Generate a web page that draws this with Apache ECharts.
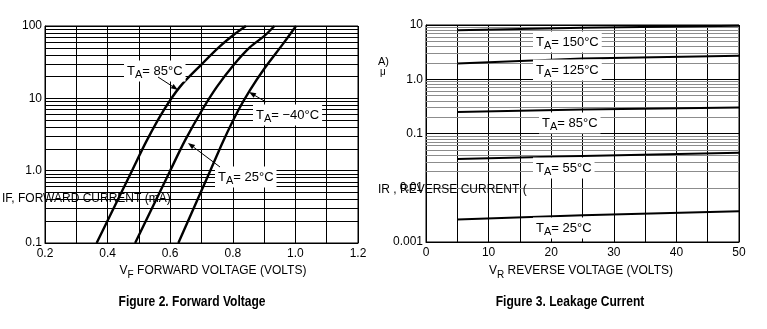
<!DOCTYPE html>
<html><head><meta charset="utf-8">
<script src="https://cdn.jsdelivr.net/npm/echarts@6/dist/echarts.min.js"></script>
<style>html,body{margin:0;padding:0;background:#fff}#c{width:767px;height:329px}</style>
</head><body><div id="c"></div>
<script>
// ---- Figure 2: forward voltage (VF, volts) vs forward current (IF, mA)
const fwd85V = [0.365, 0.478, 0.525, 0.580, 0.631, 0.702, 0.756, 0.807, 0.842];
const fwd85I = [0.1, 1, 2.6, 6.9, 14.4, 30, 51, 78, 100];
const fwd25V = [0.488, 0.600, 0.647, 0.702, 0.749, 0.802, 0.855, 0.901, 0.933];
const fwd25I = [0.1, 1, 2.6, 6.9, 14.4, 28.7, 51, 73, 100];
const fwdm40V = [0.626, 0.728, 0.770, 0.818, 0.855, 0.901, 0.961, 1.002];
const fwdm40I = [0.1, 1, 2.6, 6.9, 13, 25.8, 57, 100];
const fwdXTicks = ['0.2','0.4','0.6','0.8','1.0','1.2'];
const fwdYTicks = ['0.1','1.0','10','100'];
// ---- Figure 3: reverse voltage (VR, volts) vs reverse current (IR, uA)
const revVoltage = [5, 25, 50];
const revI150 = [8.0, 8.9, 9.7];
const revI125 = [1.95, 2.41, 2.7];
const revI85 = [0.25, 0.276, 0.30];
const revI55 = [0.034, 0.0385, 0.044];
const revI25 = [0.0026, 0.0031, 0.0037];
const revXTicks = ['0','10','20','30','40','50'];
const revYTicks = ['0.001','0.01','0.1','1.0','10'];

function pairs(xs, ys){ return xs.map((x,i)=>[x, ys[i]]); }
function logMinors(lo, hi){ const out=[]; for(let d=lo; d<hi-1e-12; d*=10){ for(let k=2;k<=9;k++) out.push(+(d*k).toPrecision(6)); } return out; }
function fmtLog(v){ return String(v) === '1' ? '1.0' : String(+v.toPrecision(6)); }

const FONT = '"Liberation Sans", Arial, sans-serif';
const chart = echarts.init(document.getElementById('c'), null, {renderer:'canvas'});

const curveStyle = {type:'line', smooth:0.3, symbol:'none', lineStyle:{color:'#000', width:2.4}, z:5, silent:true};
function gridSeries(xi, vals, color){
  return {type:'line', xAxisIndex:xi, yAxisIndex:xi, data:[], z:1, silent:true,
    markLine:{silent:true, symbol:['none','none'], animation:false, label:{show:false},
      lineStyle:{color:color, width:1, type:'solid'}, emphasis:{disabled:true},
      data: vals.map(v=>({yAxis:v}))}};
}
const revLine = {xAxisIndex:1, yAxisIndex:1, smooth:false, lineStyle:{color:'#000', width:2}};

const option = {
  animation:false,
  textStyle:{fontFamily:FONT},
  grid:[
    {left:45, top:26, width:313, height:217, show:true, borderColor:'#000', borderWidth:1},
    {left:426, top:25, width:313, height:217, show:true, borderColor:'#000', borderWidth:1}
  ],
  xAxis:[
    {gridIndex:0, type:'value', min:0.2, max:1.2, interval:0.1,
     axisLine:{lineStyle:{color:'#000'}}, axisTick:{show:false},
     splitLine:{lineStyle:{color:'#000', width:1}},
     axisLabel:{color:'#000', fontSize:12, margin:5, fontFamily:FONT,
       formatter:v=>{ const s=(Math.round(v*10)/10).toFixed(1); return fwdXTicks.includes(s)?s:''; }}},
    {gridIndex:1, type:'value', min:0, max:50, interval:5,
     axisLine:{lineStyle:{color:'#000'}}, axisTick:{show:false},
     splitLine:{lineStyle:{color:'#000', width:1}},
     axisLabel:{color:'#000', fontSize:12, margin:5, fontFamily:FONT,
       formatter:v=>{ const s=String(Math.round(v)); return revXTicks.includes(s)?s:''; }}}
  ],
  yAxis:[
    {gridIndex:0, type:'log', logBase:10, min:0.1, max:100,
     axisLine:{lineStyle:{color:'#000'}}, axisTick:{show:false},
     splitLine:{lineStyle:{color:'#000', width:1}},
     axisLabel:{color:'#000', fontSize:12, margin:3, fontFamily:FONT,
       formatter:v=>{ const s=fmtLog(v); return fwdYTicks.includes(s)?s:''; }}},
    {gridIndex:1, type:'log', logBase:10, min:0.001, max:10,
     axisLine:{lineStyle:{color:'#000'}}, axisTick:{show:false},
     splitLine:{lineStyle:{color:'#000', width:1}},
     axisLabel:{color:'#000', fontSize:12, margin:3, fontFamily:FONT,
       formatter:v=>{ const s=fmtLog(v); return revYTicks.includes(s)?s:''; }}}
  ],
  series:[
    gridSeries(0, logMinors(0.1,100), '#000'),
    gridSeries(1, logMinors(0.001,10), '#8c8c8c'),
    Object.assign({}, curveStyle, {xAxisIndex:0, yAxisIndex:0, data:pairs(fwd85V, fwd85I)}),
    Object.assign({}, curveStyle, {xAxisIndex:0, yAxisIndex:0, data:pairs(fwd25V, fwd25I)}),
    Object.assign({}, curveStyle, {xAxisIndex:0, yAxisIndex:0, data:pairs(fwdm40V, fwdm40I)}),
    Object.assign({}, curveStyle, revLine, {data:pairs(revVoltage, revI150)}),
    Object.assign({}, curveStyle, revLine, {data:pairs(revVoltage, revI125)}),
    Object.assign({}, curveStyle, revLine, {data:pairs(revVoltage, revI85)}),
    Object.assign({}, curveStyle, revLine, {data:pairs(revVoltage, revI55)}),
    Object.assign({}, curveStyle, revLine, {data:pairs(revVoltage, revI25)})
  ]
};
chart.setOption(option);

// ---- annotations (layout in pixels)
const rich = {a:{fontSize:13, fontFamily:FONT, color:'#000'}, s:{fontSize:11, fontFamily:FONT, color:'#000', padding:[8,0,0,0]}};
function tLabel(x, y, temp){
  return {type:'text', z:50, x:x, y:y, style:{text:'{a|T}{s|A}{a|= '+temp+'}', rich:rich,
    align:'left', verticalAlign:'middle', backgroundColor:'#fff', padding:[1,3,1,3]}};
}
function arrow(x1,y1,x2,y2){
  const ang=Math.atan2(y2-y1,x2-x1), L=7, W=2.6;
  const bx=x2-L*Math.cos(ang), by=y2-L*Math.sin(ang);
  const px=-Math.sin(ang)*W, py=Math.cos(ang)*W;
  return [
    {type:'line', z:60, shape:{x1:x1,y1:y1,x2:bx,y2:by}, style:{stroke:'#000', lineWidth:1}},
    {type:'polygon', z:60, shape:{points:[[x2,y2],[bx+px,by+py],[bx-px,by-py]]}, style:{fill:'#000'}}
  ];
}
function txt(x,y,text,opts,extra){
  return Object.assign({type:'text', z:40, x:x, y:y, style:Object.assign({text:text, fontSize:12, fontFamily:FONT, fill:'#000', align:'left', verticalAlign:'middle'}, opts||{})}, extra||{});
}
const sub = {a:{fontSize:12, fontFamily:FONT, color:'#000'}, s:{fontSize:10, fontFamily:FONT, color:'#000', padding:[8,0,0,0]}};
const graphics = [
  tLabel(124, 71, '85°C'),
  tLabel(253, 115, '−40°C'),
  tLabel(215, 177, '25°C'),
  ...arrow(158,77,178,90),
  ...arrow(266,102,249,92),
  ...arrow(220,167,188,143),
  tLabel(533, 42, '150°C'),
  tLabel(533, 70, '125°C'),
  tLabel(539, 123, '85°C'),
  tLabel(533, 168, '55°C'),
  tLabel(533, 228, '25°C'),
  txt(2, 199, 'IF, FORWARD CURRENT (mA)'),
  txt(378, 190, 'IR , REVERSE CURRENT ('),
  txt(378, 62, 'A)', {fontSize:11}),
  txt(380, 72, 'μ', {fontSize:10}),
  {type:'text', z:40, x:213, y:271, style:{text:'{a|V}{s|F}{a| FORWARD VOLTAGE (VOLTS)}', rich:sub, align:'center', verticalAlign:'middle'}},
  {type:'text', z:40, x:581, y:271, style:{text:'{a|V}{s|R}{a| REVERSE VOLTAGE (VOLTS)}', rich:sub, align:'center', verticalAlign:'middle'}},
  txt(192, 302, 'Figure 2. Forward Voltage', {align:'center', fontSize:14, fontWeight:'bold'}, {scaleX:0.86}),
  txt(570, 302, 'Figure 3. Leakage Current', {align:'center', fontSize:14, fontWeight:'bold'}, {scaleX:0.86})
];
chart.setOption({graphic:graphics});
</script></body></html>
